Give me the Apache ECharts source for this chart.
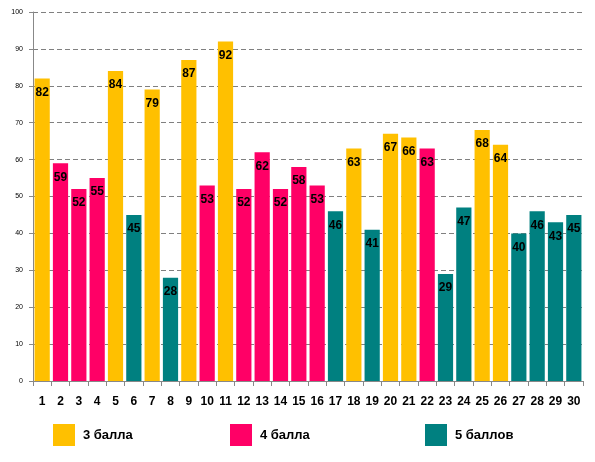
<!DOCTYPE html>
<html>
<head>
<meta charset="utf-8">
<script src="https://cdn.jsdelivr.net/npm/echarts@6/dist/echarts.min.js"></script>
<style>
html, body { margin: 0; padding: 0; background: #fff; }
#chart { width: 595px; height: 462px; }
</style>
</head>
<body>
<div id="chart"></div>
<script>
// номера заданий и доли выполнения
const categories = ['1','2','3','4','5','6','7','8','9','10','11','12','13','14','15','16','17','18','19','20','21','22','23','24','25','26','27','28','29','30'];
const values = [82,59,52,55,84,45,79,28,87,53,92,52,62,52,58,53,46,63,41,67,66,63,29,47,68,64,40,46,43,45];
// 0 - 3 балла, 1 - 4 балла, 2 - 5 баллов
const groups = [0,1,1,1,0,2,0,2,0,1,0,1,1,1,1,1,2,0,2,0,0,1,2,2,0,0,2,2,2,2];
const groupNames = ['3 балла', '4 балла', '5 баллов'];
const colors = ['#FFC000', '#FF0066', '#008080'];

let chart = echarts.init(document.getElementById('chart'));

let series = groupNames.map(function (name, g) {
	return {
		name: name,
		type: 'bar',
		stack: 'all',
		barCategoryGap: '17%',
		itemStyle: { color: colors[g] },
		label: {
			show: true,
			position: 'insideTop',
			distance: 8,
			color: '#000',
			fontWeight: 'bold',
			fontSize: 12,
			fontFamily: 'Liberation Sans'
		},
		data: values.map(function (v, i) { return groups[i] === g ? v : '-'; })
	};
});

let legendPos = [53, 230, 425];
let legends = groupNames.map(function (name, g) {
	return {
		data: [name],
		left: legendPos[g],
		top: 424,
		padding: 0,
		itemWidth: 22,
		itemHeight: 22,
		itemGap: 4,
		icon: 'rect',
		textStyle: { fontSize: 13, fontWeight: 'bold', color: '#000', fontFamily: 'Liberation Sans', padding: [0, 0, 0, 3] }
	};
});

let option = {
	backgroundColor: '#fff',
	animation: false,
	grid: { left: 33, right: 12, top: 12, bottom: 81 },
	legend: legends,
	xAxis: {
		type: 'category',
		data: categories,
		axisLine: { lineStyle: { color: '#888' } },
		axisTick: { show: true, alignWithLabel: false, lineStyle: { color: '#888' } },
		axisLabel: { color: '#000', fontWeight: 'bold', fontSize: 12, margin: 15, interval: 0, fontFamily: 'Liberation Sans' }
	},
	yAxis: {
		type: 'value',
		min: 0,
		max: 100,
		interval: 10,
		axisLine: { show: true, lineStyle: { color: '#888' } },
		axisTick: { show: true, length: 4, lineStyle: { color: '#888' } },
		axisLabel: { color: '#000', fontSize: 7, margin: 10 },
		splitLine: { lineStyle: { color: '#808080', type: [5, 3] } }
	},
	series: series
};
chart.setOption(option);
</script>
</body>
</html>
